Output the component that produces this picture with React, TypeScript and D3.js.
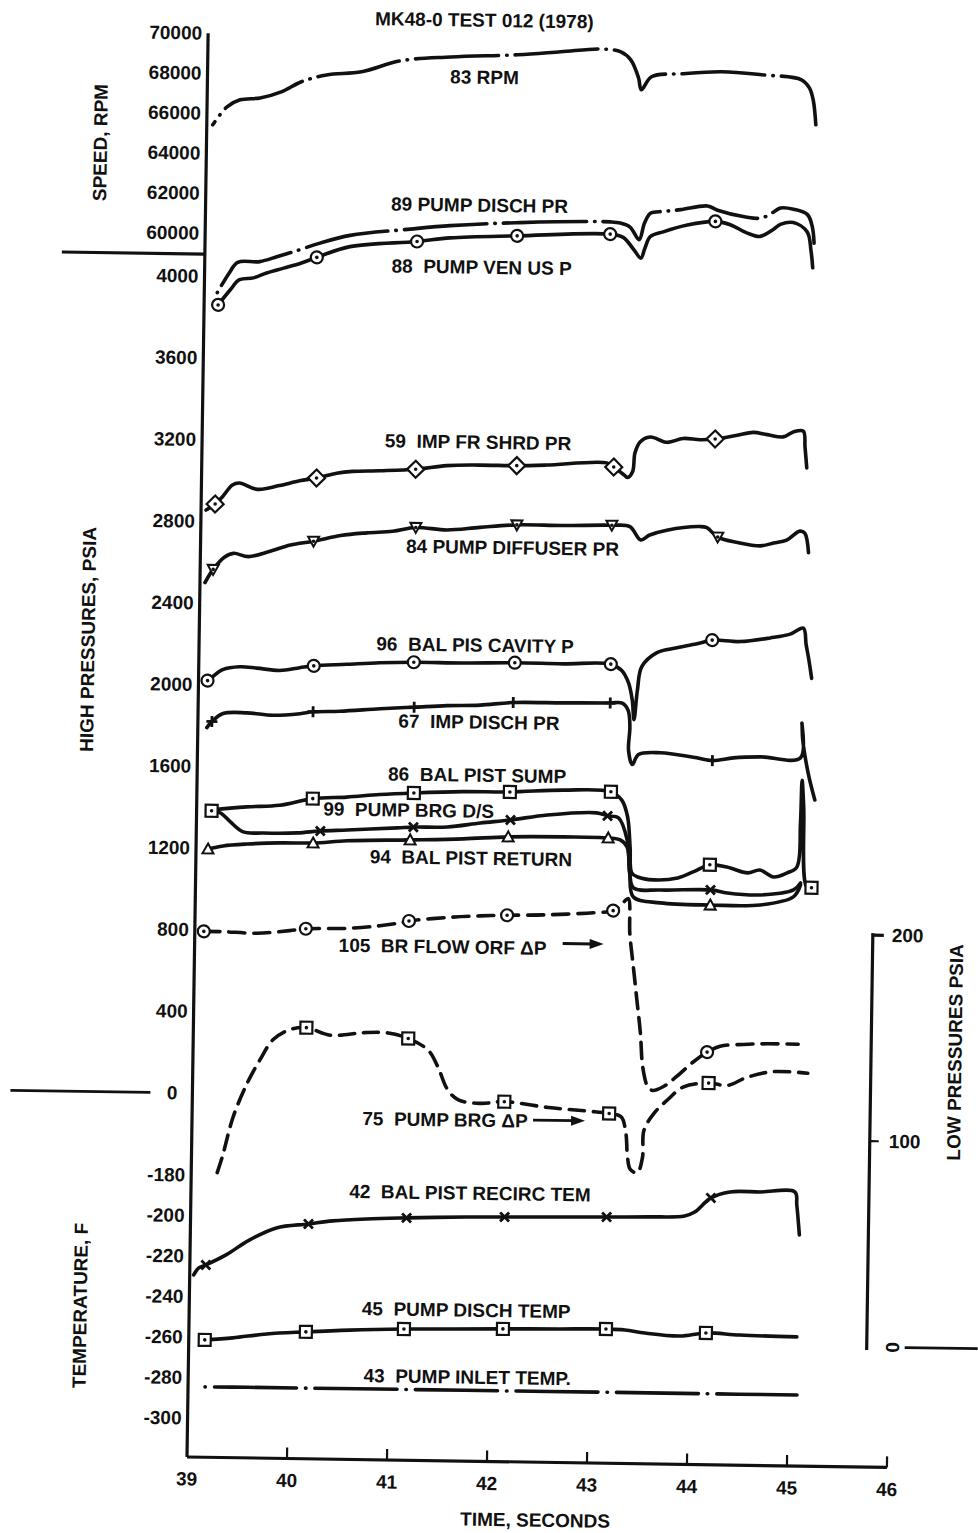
import React from 'react';
import * as d3 from 'd3';

type Pt = [number, number];

// ---- axis ticks ----
const timeTicks = [39, 40, 41, 42, 43, 44, 45, 46];
const speedTicks = [70000, 68000, 66000, 64000, 62000, 60000];
const highTicks = [4000, 3600, 3200, 2800, 2400, 2000, 1600, 1200, 800, 400];
const tempTicks = [-180, -200, -220, -240, -260, -280, -300];
const lowTicks = [200, 100];

// ---- series (time s, value) ----
const rpm83: Pt[] = [[39.06,65420],[39.2,66330],[39.33,66690],[39.53,66800],[39.74,67120],[39.94,67640],[40.19,68000],[40.54,68180],[40.93,68760],[41.43,68990],[42.1,69150],[42.53,69330],[42.93,69500],[43.13,69370],[43.23,68980],[43.31,68090],[43.34,67490],[43.44,68150],[43.74,68320],[44.14,68450],[44.54,68330],[44.94,68110],[45.02,67710],[45.06,67110],[45.09,65870]];

const disch89: Pt[] = [[39.13,3920],[39.25,4020],[39.33,4070],[39.55,4075],[39.72,4100],[39.88,4125],[40.15,4170],[40.45,4210],[41.05,4245],[41.45,4265],[42.15,4285],[43.05,4295],[43.15,4290],[43.25,4270],[43.34,4210],[43.39,4290],[43.45,4340],[43.58,4350],[43.75,4360],[44.02,4380],[44.12,4360],[44.39,4330],[44.56,4325],[44.68,4355],[44.75,4375],[44.88,4370],[45.02,4345],[45.07,4285],[45.09,4205]];

const venus88: Pt[] = [[39.14,3860],[39.26,3935],[39.35,3985],[39.49,3995],[39.62,4020],[39.79,4045],[39.96,4070],[40.12,4100],[40.45,4155],[41.12,4185],[41.45,4205],[42.12,4220],[43.05,4235],[43.18,4220],[43.29,4160],[43.36,4120],[43.4,4170],[43.45,4225],[43.58,4250],[43.82,4285],[44.1,4305],[44.25,4290],[44.42,4250],[44.55,4235],[44.68,4270],[44.75,4295],[44.88,4305],[45.02,4260],[45.06,4170],[45.08,4085]];
const venus88Marks: Pt[] = [[39.14,3860],[40.12,4100],[41.12,4185],[42.12,4220],[43.05,4235],[44.1,4305]];

const shrd59: Pt[] = [[39.05,2855],[39.14,2885],[39.21,2920],[39.31,2980],[39.38,2990],[39.56,2960],[39.78,2980],[39.98,3005],[40.15,3020],[40.35,3045],[40.51,3055],[40.78,3060],[41.14,3070],[41.45,3090],[41.78,3095],[42.15,3095],[42.45,3100],[43.05,3115],[43.12,3095],[43.23,3055],[43.26,3045],[43.31,3075],[43.33,3165],[43.38,3220],[43.48,3245],[43.65,3220],[43.81,3240],[43.98,3235],[44.13,3240],[44.35,3260],[44.51,3275],[44.65,3265],[44.81,3255],[44.91,3280],[45.01,3285],[45.03,3205],[45.05,3105]];
const shrd59Marks: Pt[] = [[39.14,2885],[40.15,3020],[41.14,3070],[42.15,3095],[43.12,3095],[44.13,3240]];

const diff84: Pt[] = [[39.05,2500],[39.13,2565],[39.24,2625],[39.33,2645],[39.48,2630],[39.68,2655],[39.9,2690],[40.13,2710],[40.4,2740],[40.66,2755],[40.92,2765],[41.15,2785],[41.46,2775],[41.79,2790],[42.16,2805],[42.62,2805],[43.11,2810],[43.29,2805],[43.4,2740],[43.49,2765],[43.66,2790],[43.99,2810],[44.06,2805],[44.17,2760],[44.37,2735],[44.6,2720],[44.73,2735],[44.86,2750],[44.99,2795],[45.04,2785],[45.08,2690]];
const diff84Marks: Pt[] = [[39.13,2565],[40.13,2710],[41.15,2785],[42.16,2805],[43.11,2810],[44.17,2760]];

const cav96: Pt[] = [[39.09,2020],[39.14,2040],[39.24,2075],[39.41,2090],[39.58,2085],[39.81,2075],[40.01,2090],[40.15,2100],[40.48,2110],[40.81,2120],[41.15,2125],[41.64,2125],[42.16,2130],[42.64,2128],[43.12,2130],[43.23,2100],[43.3,2040],[43.34,1955],[43.36,1860],[43.39,2005],[43.43,2120],[43.58,2190],[43.78,2215],[44.01,2240],[44.13,2255],[44.41,2250],[44.71,2270],[44.91,2290],[45.04,2320],[45.07,2240],[45.1,2165],[45.13,2075]];
const cav96Marks: Pt[] = [[39.09,2020],[40.15,2100],[41.15,2125],[42.16,2130],[43.12,2130],[44.13,2255]];

const imp67: Pt[] = [[39.09,1790],[39.14,1820],[39.25,1860],[39.49,1865],[39.75,1855],[40.02,1865],[40.15,1875],[40.42,1880],[40.82,1895],[41.16,1905],[41.49,1915],[41.82,1920],[42.15,1935],[42.65,1937],[43.12,1940],[43.24,1940],[43.3,1905],[43.32,1825],[43.31,1710],[43.35,1640],[43.41,1690],[43.63,1700],[43.96,1680],[44.15,1665],[44.36,1680],[44.63,1687],[45.03,1685],[45.04,1855],[45.05,1775],[45.11,1610],[45.18,1480]];
const imp67Marks: Pt[] = [[39.14,1820],[40.15,1875],[41.16,1905],[42.15,1935],[43.12,1940],[44.15,1665]];

const sump86: Pt[] = [[39.1,1385],[39.5,1405],[39.83,1415],[40.16,1450],[40.5,1460],[40.83,1475],[41.17,1485],[41.66,1495],[42.13,1497],[42.66,1510],[43.14,1505],[43.25,1465],[43.31,1385],[43.34,1235],[43.36,1110],[43.42,1090],[43.58,1077],[43.82,1088],[43.98,1120],[44.14,1155],[44.31,1145],[44.52,1118],[44.64,1133],[44.78,1100],[44.91,1120],[45.01,1150],[45.04,1365],[45.05,1575],[45.07,1445],[45.11,1055],[45.16,1050]];
const sump86Marks: Pt[] = [[39.15,1383],[40.16,1450],[41.17,1485],[42.13,1497],[43.14,1505],[44.14,1155],[45.16,1050]];

const brg99: Pt[] = [[39.1,1387],[39.15,1383],[39.24,1373],[39.34,1330],[39.47,1282],[39.67,1278],[40.01,1281],[40.24,1292],[40.51,1299],[41.01,1313],[41.17,1318],[41.51,1321],[41.84,1343],[42.14,1360],[42.51,1387],[43,1401],[43.11,1387],[43.22,1378],[43.31,1270],[43.34,1109],[43.38,1036],[43.65,1028],[44.15,1032],[44.32,1018],[44.65,1011],[44.98,1038],[45.05,1073]];
const brg99Marks: Pt[] = [[39.15,1383],[40.24,1292],[41.17,1318],[42.14,1360],[43.11,1387],[44.15,1032]];

const ret94: Pt[] = [[39.12,1196],[39.27,1212],[39.51,1223],[39.84,1231],[40.17,1233],[40.51,1246],[41.14,1255],[41.67,1264],[42.12,1277],[42.67,1281],[43.12,1279],[43.24,1270],[43.31,1236],[43.34,1109],[43.38,992],[43.65,965],[44.15,958],[44.65,962],[44.98,1004],[45.05,1063]];
const ret94Marks: Pt[] = [[39.12,1196],[40.17,1233],[41.14,1255],[42.12,1277],[43.12,1279],[44.15,958]];

// low-pressure scale (right axis)
const orf105: Pt[] = [[39.09,197],[39.28,197],[39.62,196.5],[39.95,198],[40.11,199],[40.52,199.5],[40.85,201],[41.05,202.5],[41.14,203.5],[41.52,205.5],[41.85,206.5],[42.12,207],[42.52,207.5],[43.02,209],[43.18,210],[43.28,214],[43.33,216],[43.35,199],[43.39,183],[43.43,167],[43.47,151],[43.5,134],[43.55,125],[43.6,123],[43.71,125],[43.84,130],[44,137],[44.14,142],[44.27,145],[44.5,146],[44.74,146.5],[45.05,146.5]];
const orf105Marks: Pt[] = [[39.09,197],[40.11,199],[41.14,203.5],[42.12,207],[43.18,210],[44.14,142]];

const brg75: Pt[] = [[39.26,80],[39.31,88],[39.41,107],[39.55,124],[39.67,135],[39.8,145],[39.97,150],[40.13,151],[40.37,147.5],[40.71,149],[40.95,149],[41.15,146.5],[41.35,141],[41.45,133],[41.55,122],[41.66,117],[41.88,115.5],[42.12,116.5],[42.56,114],[42.96,112.5],[43.17,111.5],[43.29,110],[43.34,102],[43.36,90.5],[43.39,84.5],[43.46,83],[43.51,90.5],[43.52,103.5],[43.62,112],[43.75,118.5],[43.91,125],[44.16,127],[44.35,126],[44.54,130],[44.8,133],[45.15,132.5]];
const brg75Marks: Pt[] = [[40.13,151],[41.15,146.5],[42.12,116.5],[43.17,111.5],[44.16,127]];

// temperatures
const recirc42: Pt[] = [[39.04,-229.3],[39.09,-225.8],[39.16,-224.3],[39.36,-219.2],[39.59,-211.7],[39.86,-205.5],[40.18,-203.3],[40.42,-201.6],[40.76,-200.4],[41.16,-199.6],[41.76,-198.7],[42.14,-198.4],[42.69,-198],[43.16,-197.7],[43.59,-197.3],[43.94,-196.6],[44.04,-194.6],[44.2,-187.5],[44.39,-184.4],[44.69,-184.2],[45.04,-184],[45.06,-190.4],[45.09,-205.1]];
const recirc42Marks: Pt[] = [[39.16,-224.3],[40.18,-203.3],[41.16,-199.6],[42.14,-198.4],[43.16,-197.7],[44.2,-187.5]];

const dtemp45: Pt[] = [[39.16,-261.3],[39.44,-260.1],[39.78,-257.9],[40.17,-256.6],[40.61,-255.4],[41.15,-254.5],[41.61,-254.1],[42.14,-253.7],[42.71,-253.3],[43.17,-253],[43.36,-253.3],[43.56,-254.7],[43.91,-255.9],[44.17,-254.2],[44.51,-255],[45.08,-255.5]];
const dtemp45Marks: Pt[] = [[39.16,-261.3],[40.17,-256.6],[41.15,-254.5],[42.14,-253.7],[43.17,-253],[44.17,-254.2]];

const inlet43: Pt[] = [[39.17,-284.5],[39.6,-284.4],[40.2,-284.4],[41.1,-284.3],[42.1,-284.3],[43.1,-284.2],[44.1,-284.2],[45.09,-284.2]];

// ---- layout ----
const W = 978;
const H = 1533;
const X0 = 187;
const Y0 = 1457;
const TILT = 0.85; // the scanned sheet is slightly rotated

const x = d3.scaleLinear().domain([39, 46]).range([X0, 887]);
const ySpeed = d3.scaleLinear().domain([60000, 70000]).range([233, 33]);
const yHigh = d3.scaleLinear().domain([0, 4000]).range([1093, 276]);
const yTemp = d3.scaleLinear().domain([-300, -180]).range([1418, 1175]);
const yLow = d3.scaleLinear().domain([0, 200]).range([1337, 925]);

const INK = '#111';
const FONT = "'Liberation Sans', Arial, Helvetica, sans-serif";
const LW = 3.6;

type Series = {
  data: Pt[];
  marks: Pt[];
  y: d3.ScaleLinear<number, number>;
  marker: string | null;
  dash?: string;
  offset?: number;
};

const series: Series[] = [
  { data: rpm83, marks: [], y: ySpeed, marker: null, dash: '83 8 0.5 8', offset: 79 },
  { data: disch89, marks: [], y: yHigh, marker: null, dash: '0.5 8 83 8', offset: 0 },
  { data: venus88, marks: venus88Marks, y: yHigh, marker: 'circle' },
  { data: shrd59, marks: shrd59Marks, y: yHigh, marker: 'diamond' },
  { data: diff84, marks: diff84Marks, y: yHigh, marker: 'tridown' },
  { data: cav96, marks: cav96Marks, y: yHigh, marker: 'circle' },
  { data: imp67, marks: imp67Marks, y: yHigh, marker: 'plus' },
  { data: ret94, marks: ret94Marks, y: yHigh, marker: 'triup' },
  { data: brg99, marks: brg99Marks, y: yHigh, marker: 'cross' },
  { data: sump86, marks: sump86Marks, y: yHigh, marker: 'square' },
  { data: orf105, marks: orf105Marks, y: yLow, marker: 'circle', dash: '16 9' },
  { data: brg75, marks: brg75Marks, y: yLow, marker: 'square', dash: '15 9' },
  { data: recirc42, marks: recirc42Marks, y: yTemp, marker: 'cross' },
  { data: dtemp45, marks: dtemp45Marks, y: yTemp, marker: 'square' },
  { data: inlet43, marks: [], y: yTemp, marker: null, dash: '0.5 9 82 9', offset: 0 },
];

const labels = [
  { text: '83 RPM', x: 464, y: 73 },
  { text: '89 PUMP DISCH PR', x: 461, y: 201 },
  { text: '88  PUMP VEN US P', x: 464, y: 263 },
  { text: '59  IMP FR SHRD PR', x: 463, y: 438 },
  { text: '84 PUMP DIFFUSER PR', x: 499, y: 543 },
  { text: '96  BAL PIS CAVITY P', x: 463, y: 641 },
  { text: '67  IMP DISCH PR', x: 468, y: 718 },
  { text: '86  BAL PIST SUMP', x: 467, y: 771 },
  { text: '99  PUMP BRG D/S', x: 399, y: 807 },
  { text: '94  BAL PIST RETURN', x: 462, y: 854 },
  { text: '105  BR FLOW ORF \u0394P', x: 435, y: 943 },
  { text: '75  PUMP BRG \u0394P', x: 440, y: 1116 },
  { text: '42  BAL PIST RECIRC TEM', x: 466, y: 1189 },
  { text: '45  PUMP DISCH TEMP', x: 464, y: 1306 },
  { text: '43  PUMP INLET TEMP.', x: 466, y: 1373 },
];

const arrows = [
  { x1: 555, x2: 596, y: 938 },
  { x1: 528, x2: 580, y: 1115 },
];

const Marker = ({ kind, cx, cy }: { kind: string; cx: number; cy: number }) => {
  const dot = <circle cx={cx} cy={cy} r={1.8} fill={INK} />;
  const st = { fill: '#fff', stroke: INK, strokeWidth: 2.2 };
  switch (kind) {
    case 'circle':
      return <g><circle cx={cx} cy={cy} r={6} {...st} />{dot}</g>;
    case 'square':
      return <g><rect x={cx - 6} y={cy - 6} width={12} height={12} {...st} />{dot}</g>;
    case 'diamond':
      return <g><path d={`M${cx},${cy - 8.5}L${cx + 8.5},${cy}L${cx},${cy + 8.5}L${cx - 8.5},${cy}Z`} {...st} />{dot}</g>;
    case 'tridown':
      return <g><path d={`M${cx - 5.5},${cy - 4.5}L${cx + 5.5},${cy - 4.5}L${cx},${cy + 5.5}Z`} {...st} strokeWidth={2} />{dot}</g>;
    case 'triup':
      return <path d={`M${cx},${cy - 5.5}L${cx + 5.5},${cy + 4.5}L${cx - 5.5},${cy + 4.5}Z`} {...st} strokeWidth={2} />;
    case 'plus':
      return <path d={`M${cx - 5.5},${cy}H${cx + 5.5}M${cx},${cy - 5.5}V${cy + 5.5}`} stroke={INK} strokeWidth={2.8} />;
    case 'cross':
      return <path d={`M${cx - 4.5},${cy - 4.5}L${cx + 4.5},${cy + 4.5}M${cx + 4.5},${cy - 4.5}L${cx - 4.5},${cy + 4.5}`} stroke={INK} strokeWidth={2.8} />;
    default:
      return null;
  }
};

export default function App() {
  const text = { fontFamily: FONT, fontWeight: 700, fontSize: 19, fill: INK } as const;

  return (
    <svg width={W} height={H} viewBox={`0 0 ${W} ${H}`}
      style={{ position: 'absolute', left: 0, top: 0, background: '#fff' }}>
      <rect width={W} height={H} fill="#fff" />
      <g transform={`rotate(${TILT} ${X0} ${Y0})`}>
        <text {...text} x={463} y={16} textAnchor="middle" dominantBaseline="central">
          MK48-0 TEST 012 (1978)
        </text>

        {/* left axis and bottom axis */}
        <line x1={X0} x2={X0} y1={33} y2={Y0} stroke={INK} strokeWidth={3.2} />
        <line x1={X0} x2={x(46)} y1={Y0} y2={Y0} stroke={INK} strokeWidth={3.2} />
        {timeTicks.map(t => (
          <g key={t}>
            {t > 39 && <line x1={x(t)} x2={x(t)} y1={Y0} y2={Y0 - 11} stroke={INK} strokeWidth={2.2} />}
            <text {...text} x={x(t)} y={Y0 + 22} textAnchor="middle" dominantBaseline="central">{t}</text>
          </g>
        ))}

        {/* section dividers */}
        <line x1={44} x2={X0} y1={254} y2={254} stroke={INK} strokeWidth={3.2} />
        <line x1={5} x2={145} y1={yHigh(0)} y2={yHigh(0)} stroke={INK} strokeWidth={2.8} />
        <text {...text} x={172} y={yHigh(0)} textAnchor="end" dominantBaseline="central">0</text>

        {speedTicks.map(v => (
          <text key={v} {...text} x={181} y={ySpeed(v)} textAnchor="end" dominantBaseline="central">{v}</text>
        ))}
        {highTicks.map(v => (
          <text key={v} {...text} x={181} y={yHigh(v)} textAnchor="end" dominantBaseline="central">{v}</text>
        ))}
        {tempTicks.map(v => (
          <text key={v} {...text} x={181} y={yTemp(v)} textAnchor="end" dominantBaseline="central">{v}</text>
        ))}

        {/* right axis, low pressures */}
        <line x1={865} x2={865} y1={yLow(200) - 2} y2={yLow(0) + 3} stroke={INK} strokeWidth={3.2} />
        <line x1={865} x2={876} y1={yLow(200)} y2={yLow(200)} stroke={INK} strokeWidth={3.2} />
        <line x1={865} x2={874} y1={yLow(100)} y2={yLow(100)} stroke={INK} strokeWidth={2.2} />
        {lowTicks.map(v => (
          <text key={v} {...text} x={884} y={yLow(v)} dominantBaseline="central">{v}</text>
        ))}
        <text {...text} x={891} y={yLow(0)} textAnchor="middle" dominantBaseline="central"
          transform={`rotate(-90 891 ${yLow(0)})`}>0</text>
        <line x1={903} x2={976} y1={yLow(0)} y2={yLow(0)} stroke={INK} strokeWidth={2.8} />

        {/* axis titles */}
        <text {...text} x={81} y={144} textAnchor="middle" dominantBaseline="central" transform="rotate(-90 81 144)">SPEED, RPM</text>
        <text {...text} x={76} y={641} textAnchor="middle" dominantBaseline="central" transform="rotate(-90 76 641)">HIGH PRESSURES, PSIA</text>
        <text {...text} x={78} y={1307} textAnchor="middle" dominantBaseline="central" transform="rotate(-90 78 1307)">TEMPERATURE, F</text>
        <text {...text} x={949} y={1041} textAnchor="middle" dominantBaseline="central" transform="rotate(-90 949 1041)">LOW PRESSURES PSIA</text>
        <text {...text} x={536} y={1515} textAnchor="middle" dominantBaseline="central">TIME, SECONDS</text>

        {/* series */}
        {series.map((s, i) => {
          const line = d3.line<Pt>()
            .x(d => x(d[0]))
            .y(d => s.y(d[1]))
            .curve(d3.curveCatmullRom.alpha(0.5));
          return (
            <g key={i}>
              <path d={line(s.data) ?? ''} fill="none" stroke={INK} strokeWidth={LW}
                strokeLinecap="round" strokeLinejoin="round"
                strokeDasharray={s.dash} strokeDashoffset={s.offset} />
              {s.marker && s.marks.map((m, j) => (
                <Marker key={j} kind={s.marker as string} cx={x(m[0])} cy={s.y(m[1])} />
              ))}
            </g>
          );
        })}

        {/* series labels */}
        {labels.map(l => (
          <text key={l.text} {...text} x={l.x} y={l.y} textAnchor="middle" dominantBaseline="central"
            style={{ whiteSpace: 'pre' }}>{l.text}</text>
        ))}
        {arrows.map((a, i) => (
          <g key={i}>
            <line x1={a.x1} x2={a.x2 - 10} y1={a.y} y2={a.y} stroke={INK} strokeWidth={2.8} />
            <path d={`M${a.x2},${a.y}L${a.x2 - 14},${a.y - 5}L${a.x2 - 14},${a.y + 5}Z`} fill={INK} />
          </g>
        ))}
      </g>
    </svg>
  );
}
